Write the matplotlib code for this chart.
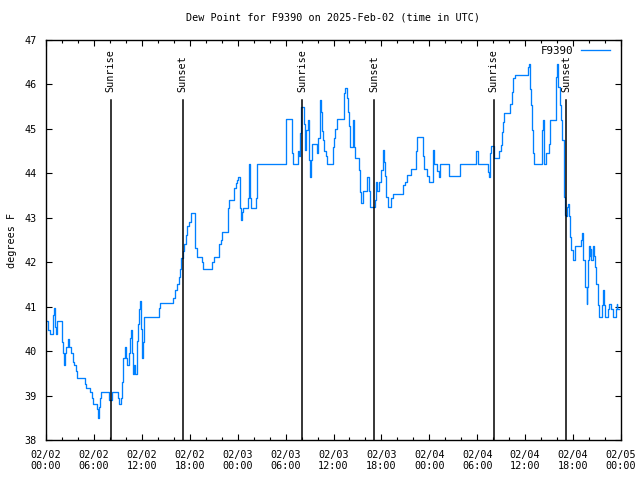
import matplotlib
matplotlib.use("Agg")
import matplotlib.pyplot as plt
import numpy as np

# hours since 2025-02-02 00:00 UTC, dew point (F) -- step values
hours = [0.0, 0.3, 0.5, 0.9, 1.0, 1.1, 1.25, 1.35, 2.05, 2.1, 2.25, 2.35, 2.55, 2.75, 2.9,
         3.1, 3.4, 3.55, 3.75, 3.9, 4.9, 5.0, 5.5, 5.75, 5.85, 6.4, 6.5, 6.6, 6.75, 6.85,
         7.85, 8.3, 9.0, 9.2, 9.35, 9.5, 9.65, 9.85, 10.0, 10.2, 10.4, 10.55, 10.65, 10.75,
         10.85, 11.0, 11.2, 11.4, 11.55, 11.65, 11.75, 11.85, 12.0, 12.1, 12.25, 14.1, 14.25,
         15.9, 16.1, 16.4, 16.6, 16.8, 16.95, 17.1, 17.3, 17.5, 17.7, 17.96, 18.2, 18.6, 18.7,
         18.85, 19.5, 19.7, 20.8, 21.0, 21.6, 21.7, 21.9, 22.1, 22.8, 22.95, 23.5, 23.6, 23.8,
         23.95, 24.1, 24.3, 24.45, 24.55, 24.65, 25.3, 25.4, 25.55, 25.7, 26.3, 26.45, 30.1,
         30.85, 30.95, 31.6, 31.7, 31.85, 31.95, 32.3, 32.45, 32.6, 32.8, 32.95, 33.05, 33.2,
         33.35, 33.9, 34.1, 34.25, 34.4, 34.5, 34.65, 34.8, 35.0, 35.2, 35.9, 36.05, 36.25,
         36.45, 37.3, 37.5, 37.65, 37.8, 38.0, 38.1, 38.45, 38.55, 38.65, 39.25, 39.35, 39.5,
         39.65, 40.25, 40.4, 40.6, 41.2, 41.35, 41.5, 41.65, 42.0, 42.15, 42.3, 42.45, 42.6,
         42.85, 43.25, 43.5, 44.75, 44.95, 45.25, 45.65, 46.3, 46.45, 47.2, 47.35, 47.75,
         47.95, 48.25, 48.45, 48.6, 48.9, 49.15, 49.3, 50.45, 51.85, 53.85, 54.05, 55.3,
         55.45, 55.55, 55.75, 56.05, 56.15, 56.75, 57.0, 57.1, 57.2, 57.4, 58.05, 58.3, 58.5,
         58.7, 60.4, 60.5, 60.6, 60.7, 60.8, 60.95, 61.05, 62.05, 62.2, 62.3, 62.4, 62.6,
         62.95, 63.05, 63.15, 63.85, 63.95, 64.05, 64.15, 64.35, 64.5, 64.65, 64.8, 64.9,
         64.97, 65.1, 65.25, 65.4, 65.55, 65.65, 65.8, 65.95, 66.3, 66.95, 67.1, 67.2, 67.3,
         67.55, 67.7, 67.75, 67.85, 68.0, 68.1, 68.2, 68.3, 68.45, 68.6, 68.75, 68.9, 69.1,
         69.2, 69.65, 69.75, 69.9, 70.0, 70.35, 70.45, 70.8, 70.95, 71.35, 71.45, 71.55, 71.7]
dewpoint = [40.68, 40.47, 40.38, 40.81, 40.97, 40.55, 40.38, 40.68, 40.2, 39.95, 39.69, 39.95,
            40.1, 40.27, 40.1, 39.95, 39.76, 39.69, 39.55, 39.39, 39.25, 39.18, 39.09, 38.95,
            38.81, 38.7, 38.49, 38.75, 38.95, 39.09, 38.9, 39.09, 38.95, 38.81, 38.95, 39.3,
            39.84, 40.1, 39.84, 39.69, 39.95, 40.29, 40.47, 39.95, 39.48, 39.69, 39.48, 40.23,
            40.6, 40.95, 41.13, 40.5, 39.84, 40.2, 40.76, 40.97, 41.09, 41.2, 41.37, 41.5,
            41.67, 41.85, 42.09, 42.26, 42.42, 42.61, 42.81, 42.91, 43.1, 42.57, 42.31, 42.11,
            42.01, 41.85, 42.01, 42.11, 42.31, 42.4, 42.5, 42.67, 43.21, 43.4, 43.51, 43.67,
            43.78, 43.85, 43.92, 43.21, 42.95, 43.14, 43.21, 43.45, 44.21, 43.45, 43.21, 43.45,
            44.21, 45.22, 44.45, 44.21, 44.5, 44.4, 44.9, 45.5, 45.12, 44.52, 44.97, 45.2, 44.3,
            43.92, 44.3, 44.65, 44.45, 44.8, 45.65, 45.39, 44.95, 44.75, 44.5, 44.4, 44.21,
            44.6, 44.79, 45.0, 45.22, 45.8, 45.91, 45.69, 45.39, 45.06, 44.59, 45.2, 44.59,
            44.34, 44.07, 43.59, 43.33, 43.6, 43.92, 43.6, 43.25, 43.4, 43.81, 43.6, 43.81,
            44.07, 44.52, 44.26, 43.95, 43.47, 43.25, 43.45, 43.53, 43.74, 43.81, 43.96, 44.1,
            44.5, 44.81, 44.4, 44.09, 43.94, 43.81, 43.81, 44.52, 44.2, 44.05, 43.92, 44.22,
            43.94, 44.22, 44.51, 44.22, 44.04, 43.92, 44.45, 44.62, 44.5, 44.34, 44.5, 44.64,
            44.94, 45.16, 45.36, 45.57, 45.84, 46.14, 46.21, 46.4, 46.47, 45.9, 45.54, 44.97,
            44.45, 44.21, 44.97, 45.2, 44.75, 44.22, 44.45, 44.67, 45.0, 45.2, 46.17, 46.47,
            46.3, 45.95, 45.54, 45.2, 44.75, 44.37, 43.47, 43.06, 43.03, 43.25, 43.32, 43.03,
            42.57, 42.27, 42.05, 42.36, 42.5, 42.65, 42.4, 42.05, 41.45, 41.07, 41.45, 42.05,
            42.36, 42.15, 42.3, 42.05, 42.36, 42.15, 41.9, 41.52, 41.04, 40.76, 41.04, 41.37,
            41.04, 40.76, 40.94, 41.07, 40.94, 40.76, 40.94, 41.07, 40.94, 40.94]

sun_hours = [8.1, 17.1, 32.05, 41.1, 56.05, 65.1]
sun_labels = ["Sunrise", "Sunset", "Sunrise", "Sunset", "Sunrise", "Sunset"]

xtick_hours = list(range(0, 73, 6))
xtick_labels = ["02/02\n00:00", "02/02\n06:00", "02/02\n12:00", "02/02\n18:00",
                "02/03\n00:00", "02/03\n06:00", "02/03\n12:00", "02/03\n18:00",
                "02/04\n00:00", "02/04\n06:00", "02/04\n12:00", "02/04\n18:00",
                "02/05\n00:00"]
yticks = list(range(38, 48))

font = "DejaVu Sans Mono"
fs = 7.3

fig = plt.figure(figsize=(6.4, 4.8), dpi=100)
ax = fig.add_axes([46/640, 40/480, 575/640, 400/480])

ax.plot(hours, dewpoint, color="#0080ff", lw=0.95, drawstyle="steps-post", label="F9390")

for h, lab in zip(sun_hours, sun_labels):
    ax.plot([h, h], [0, 0.85], color="black", lw=1.1, transform=ax.get_xaxis_transform())
    ax.text(h, 0.87, lab, rotation=90, ha="center", va="bottom", fontsize=fs,
            family=font, transform=ax.get_xaxis_transform())

ax.set_xlim(0, 72)
ax.set_ylim(38, 47)
ax.set_xticks(xtick_hours)
ax.set_xticklabels(xtick_labels, family=font, fontsize=fs)
ax.set_xticks(np.arange(0, 73, 2), minor=True)
ax.set_yticks(yticks)
ax.set_yticklabels([str(v) for v in yticks], family=font, fontsize=fs)
ax.tick_params(axis="both", which="major", direction="in", length=4, width=0.8,
               top=True, right=True)
ax.tick_params(axis="both", which="minor", direction="in", length=2, width=0.8,
               top=True, right=True)
ax.tick_params(axis="x", which="major", pad=7)
ax.tick_params(axis="y", which="major", pad=7)
for s in ax.spines.values():
    s.set_linewidth(1.0)

ax.set_ylabel("degrees F", family=font, fontsize=fs, labelpad=5)
ax.set_title("Dew Point for F9390 on 2025-Feb-02 (time in UTC)", family=font,
             fontsize=fs, pad=14)

leg = ax.legend(loc="upper right", frameon=False, markerfirst=False,
                prop={"family": font, "size": fs + 0.5}, handlelength=2.7,
                bbox_to_anchor=(1 - 8/575, 1 - 2.5/400), borderaxespad=0.0,
                borderpad=0.3, handletextpad=0.7)

fig.savefig("out.png", dpi=100)
